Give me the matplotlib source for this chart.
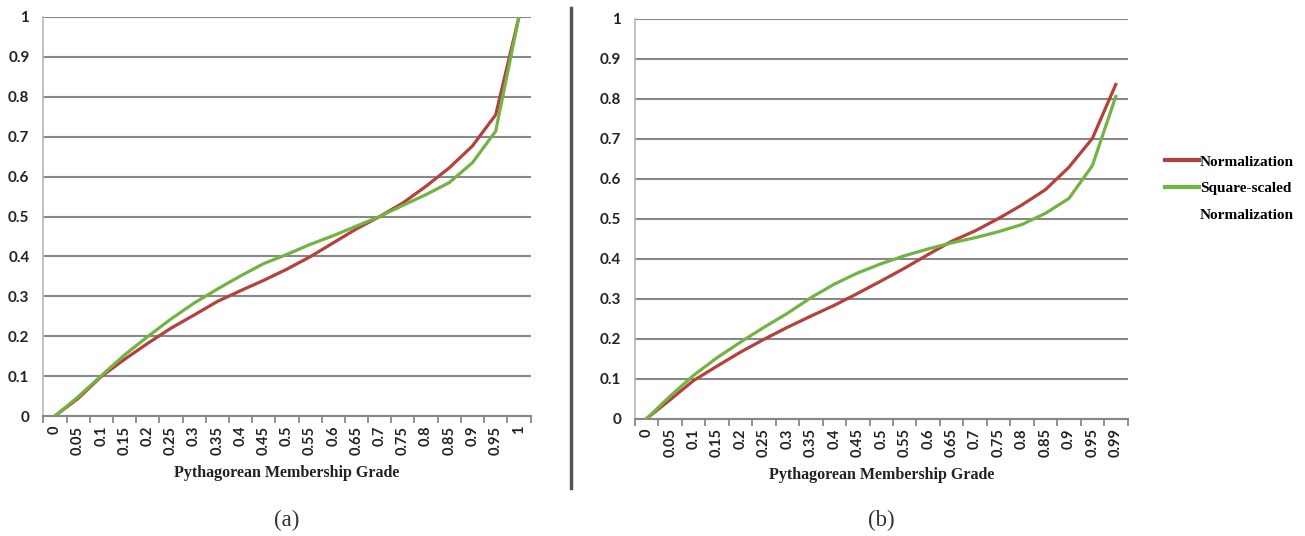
import numpy as np
import matplotlib
matplotlib.use("Agg")
import matplotlib.pyplot as plt
from matplotlib.lines import Line2D

# category labels on the two x axes
grades_a = ["0", "0.05", "0.1", "0.15", "0.2", "0.25", "0.3", "0.35", "0.4", "0.45", "0.5",
            "0.55", "0.6", "0.65", "0.7", "0.75", "0.8", "0.85", "0.9", "0.95", "1"]
grades_b = ["0", "0.05", "0.1", "0.15", "0.2", "0.25", "0.3", "0.35", "0.4", "0.45", "0.5",
            "0.55", "0.6", "0.65", "0.7", "0.75", "0.8", "0.85", "0.9", "0.95", "0.99"]

# (a)
norm_a = [0, 0.044, 0.099, 0.142, 0.182, 0.220, 0.253, 0.287, 0.314, 0.340, 0.368,
          0.399, 0.434, 0.469, 0.500, 0.534, 0.576, 0.622, 0.677, 0.755, 1.0]
sq_a = [0, 0.048, 0.101, 0.153, 0.199, 0.243, 0.283, 0.318, 0.351, 0.382, 0.405,
        0.430, 0.452, 0.476, 0.500, 0.528, 0.555, 0.585, 0.635, 0.714, 1.0]

# (b)
norm_b = [0, 0.047, 0.095, 0.131, 0.166, 0.198, 0.228, 0.256, 0.283, 0.313, 0.344,
          0.376, 0.410, 0.443, 0.469, 0.500, 0.534, 0.572, 0.628, 0.700, 0.835]
sq_b = [0, 0.056, 0.108, 0.152, 0.191, 0.228, 0.263, 0.302, 0.336, 0.364, 0.387,
        0.407, 0.424, 0.439, 0.452, 0.467, 0.485, 0.513, 0.550, 0.632, 0.805]

RED = "#b5403c"
GREEN = "#72b443"
GRID = "#888888"
TICK_FONT = "Lato"
SERIF = "Liberation Serif"

fig = plt.figure(figsize=(13.05, 5.36), dpi=100)
W, H = 1305.0, 536.0


def make_axes(x0, x1, ytop, ybot):
    return fig.add_axes([x0 / W, 1 - ybot / H, (x1 - x0) / W, (ybot - ytop) / H])


def style(ax, labels, ys, label_y):
    x = np.arange(len(labels))
    ax.plot(x, ys[0], color=RED, lw=2.3, solid_joinstyle="round", zorder=3)
    ax.plot(x, ys[1], color=GREEN, lw=2.3, solid_joinstyle="round", zorder=3)
    ax.set_xlim(-0.5, len(labels) - 0.5)
    ax.set_ylim(0, 1)
    yt = np.round(np.arange(0, 1.01, 0.1), 1)
    ax.set_yticks(yt)
    ax.set_yticklabels(["0" if v == 0 else ("1" if v == 1 else f"{v:g}") for v in yt],
                       fontsize=11, fontfamily=TICK_FONT, fontweight="bold", color="#222222")
    ax.set_xticks(x)
    ax.set_xticklabels(labels, rotation=90, fontsize=10.5, fontfamily=TICK_FONT,
                       fontweight="bold", color="#222222", va="top")
    ax.set_xticks(np.arange(-0.5, len(labels), 1.0), minor=True)
    ax.tick_params(axis="x", which="major", length=0, pad=7)
    ax.tick_params(axis="x", which="minor", length=5, width=1.3, color=GRID, direction="out")
    ax.tick_params(axis="y", length=0, pad=10)
    ax.yaxis.grid(True, color=GRID, lw=1.5)
    ax.set_axisbelow(True)
    for s in ["top", "right"]:
        ax.spines[s].set_visible(False)
    ax.spines["bottom"].set_color(GRID)
    ax.spines["bottom"].set_linewidth(1.5)
    ax.spines["left"].set_color("#b8b8b8")
    ax.spines["left"].set_linewidth(1.2)
    ax.set_xlabel("Pythagorean Membership Grade", fontsize=11.5, fontfamily=SERIF,
                  fontweight="bold", color="#222222")
    ax.xaxis.set_label_coords(0.5, label_y)


ax1 = make_axes(43.3, 530.5, 17, 416)
style(ax1, grades_a, (norm_a, sq_a), -0.122)

ax2 = make_axes(635, 1127.5, 18.5, 418.5)
style(ax2, grades_b, (norm_b, sq_b), -0.122)

# legend: handle sits next to the first line of the two-line label
handles = [Line2D([], [], color=RED, lw=3),
           Line2D([], [], color=GREEN, lw=3),
           Line2D([], [], color="none", lw=3)]
fig.legend(handles, ["Normalization", "Square-scaled", "Normalization"],
           loc="upper left", bbox_to_anchor=(1165 / W, 1 - 155 / H),
           frameon=False, borderpad=0, borderaxespad=0, handlelength=2.2,
           handletextpad=0.1, labelspacing=0.85,
           prop={"family": SERIF, "weight": "bold", "size": 11})

# separator between the panels
fig.add_artist(Line2D([571 / W, 571 / W], [1 - 8 / H, 1 - 488 / H],
                      transform=fig.transFigure, color="#555555", lw=2.5))

fig.text(287 / W, 1 - 520 / H, "(a)", ha="center", va="center",
         fontsize=16.5, fontfamily=SERIF, color="#333333")
fig.text(881 / W, 1 - 520 / H, "(b)", ha="center", va="center",
         fontsize=16.5, fontfamily=SERIF, color="#333333")

fig.savefig("out.png", dpi=100)
